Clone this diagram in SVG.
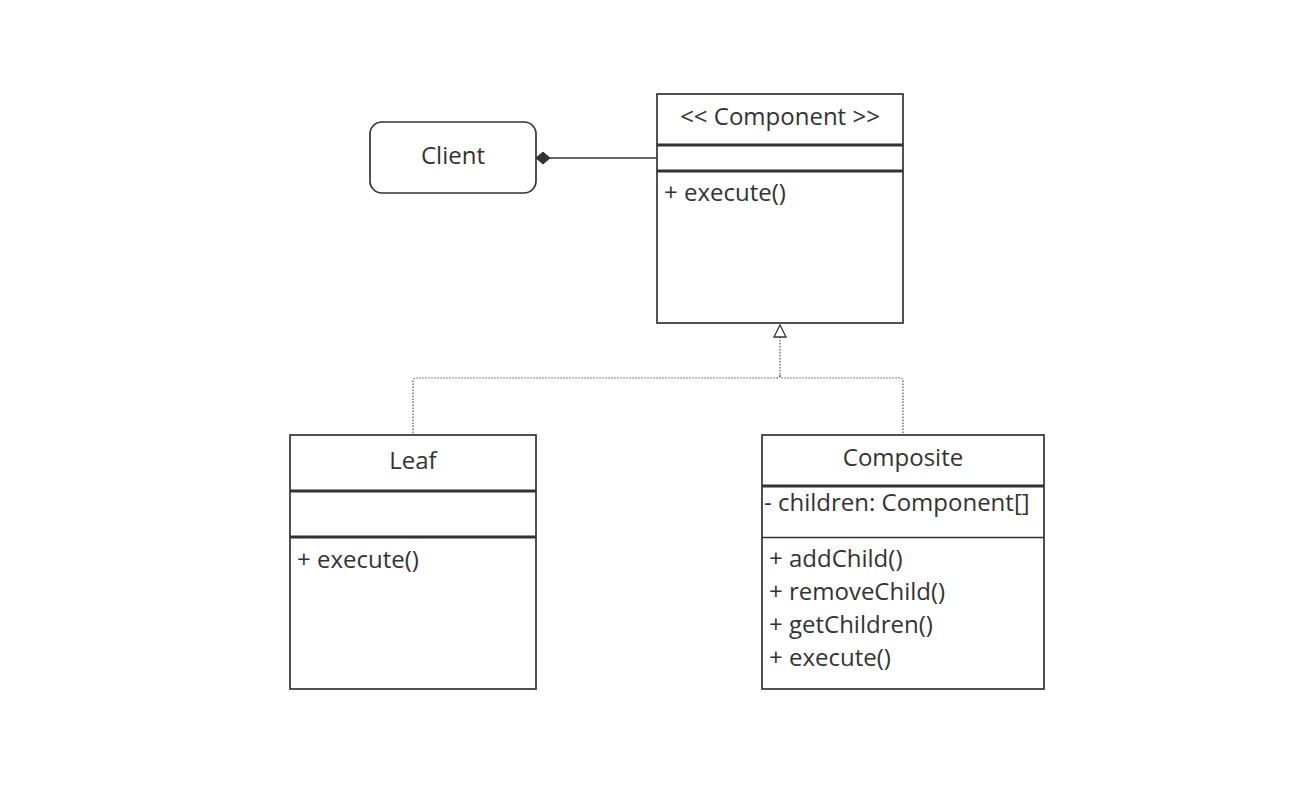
<svg xmlns="http://www.w3.org/2000/svg" width="1312" height="791" viewBox="0 0 1312 791">
<style>
.box{fill:#fff;stroke:#333;stroke-width:1.7}
.ln{stroke:#333;stroke-width:1.6;fill:none}
.dl{stroke:#333;stroke-width:3;fill:none}
.t{font-family:"Open Sans",sans-serif;font-size:24px;fill:#333}
.c{text-anchor:middle}
.dot{stroke:#555;stroke-width:1.2;stroke-dasharray:1.5 1.5;fill:none}
</style>
<rect width="1312" height="791" fill="#fff"/>
<g id="connectors">
<line class="ln" x1="550" y1="158" x2="657" y2="158"/>
<polygon points="536,158 543,152 550,158 543,164" fill="#333" stroke="#333" stroke-width="1"/>
<path class="dot" d="M780,337 V375 Q780,378 777,378 H416 Q413,378 413,381 V435"/>
<path class="dot" d="M780,375 Q780,378 783,378 H900 Q903,378 903,381 V435"/>
<polygon points="780,325 774,337 786,337" fill="#fff" stroke="#333" stroke-width="1.3"/>
</g>
<g id="client">
<rect class="box" x="370" y="122" width="166" height="71" rx="12"/>
<text class="t c" x="453" y="163.5">Client</text>
</g>
<g id="component">
<rect class="box" x="657" y="94" width="246" height="229"/>
<line class="dl" x1="657" y1="145" x2="903" y2="145"/>
<line class="dl" x1="657" y1="171" x2="903" y2="171"/>
<text class="t c" x="780" y="125">&lt;&lt; Component &gt;&gt;</text>
<text class="t" x="664" y="201">+ execute()</text>
</g>
<g id="leaf">
<rect class="box" x="290" y="435" width="246" height="254"/>
<line class="dl" x1="290" y1="491" x2="536" y2="491"/>
<line class="dl" x1="290" y1="537" x2="536" y2="537"/>
<text class="t c" x="413" y="469">Leaf</text>
<text class="t" x="297" y="568">+ execute()</text>
</g>
<g id="composite">
<rect class="box" x="762" y="435" width="282" height="254"/>
<line class="dl" x1="762" y1="486" x2="1044" y2="486"/>
<line class="ln" x1="762" y1="537.5" x2="1044" y2="537.5" stroke-width="2"/>
<text class="t c" x="903" y="466">Composite</text>
<text class="t" x="764" y="511">- children: Component[]</text>
<text class="t" x="769" y="567">+ addChild()</text>
<text class="t" x="769" y="600">+ removeChild()</text>
<text class="t" x="769" y="633">+ getChildren()</text>
<text class="t" x="769" y="666">+ execute()</text>
</g>
</svg>
